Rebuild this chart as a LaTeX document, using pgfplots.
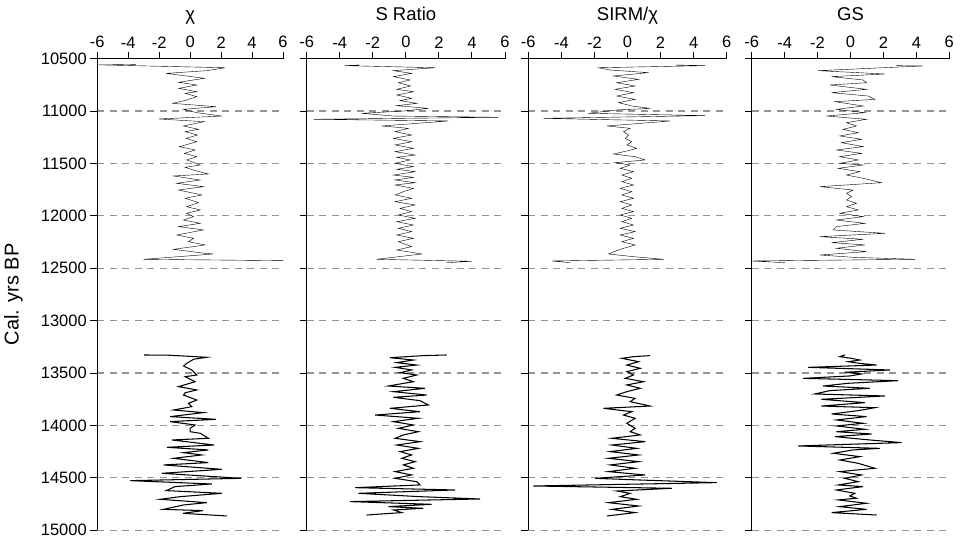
\documentclass[border=0pt]{standalone}
\usepackage{fontspec}
\setmainfont{Liberation Sans}
\usepackage{pgfplots}
\pgfplotsset{compat=1.18}
\pgfplotsset{
  panel/.style={
    scale only axis, height=471.6pt,
    xmin=-6, xmax=6, ymin=10500, ymax=15000, y dir=reverse,
    axis x line*=top, axis y line*=left,
    xtick={-6,-4,...,6}, ytick={10500,11000,...,15000},
    tick align=outside, major tick length=7pt,
    ymajorgrids,
    grid style={dash pattern=on 7pt off 5.5pt, color=black!42, line width=1.3pt},
    axis line style={line width=1.3pt, black},
    tick style={line width=1pt, black},
    scaled y ticks=false, scaled x ticks=false,
    /pgf/number format/assume math mode=true,
    /pgf/number format/set thousands separator={},
    ticklabel style={font=\fontsize{16.5}{18}\selectfont},
    title style={at={(0.5,1)}, anchor=base, yshift=32pt, font=\fontsize{18.5}{20}\selectfont},
    cycle list={{black, line width=1.05pt, mark=none, smooth, tension=0.35}},
  }
}
\begin{document}
\begin{tikzpicture}
\useasboundingbox (0,0) rectangle (960pt,539pt);
% ---------------- chi ----------------
\begin{axis}[panel, width=185.7pt, at={(97.3pt,8.8pt)}, anchor=south west,
  title={χ}, ylabel={Cal. yrs BP},
  ylabel style={at={(axis description cs:0,0.5)}, anchor=center, rotate=0, yshift=83.8pt, font=\fontsize{20}{22}\selectfont}]
\addplot coordinates {
(-3.5,10555) (-5.9,10560) (2.26,10587) (1.08,10615) (-1.55,10641) (0.92,10688) (-0.75,10726) (0.43,10752)
(-0.73,10784) (0.43,10816) (-0.32,10831) (0.43,10863) (-0.22,10895) (-1.12,10927) (1.68,10959) (-0.43,10984)
(0.43,11016) (2.04,11048) (-2.04,11076) (0.9,11102) (-0.43,11143) (0.54,11175) (-0.32,11197) (0.47,11229)
(-0.26,11261) (0.43,11293) (-0.69,11340) (0.32,11372) (-0.37,11404) (0.43,11436) (-0.22,11467) (0.65,11515)
(-0.32,11537) (0.32,11569) (1.18,11601) (-1.08,11620) (0.65,11658) (-0.86,11690) (0.86,11722) (-0.75,11754)
(0.75,11801) (-0.32,11833) (0.54,11874) (-0.22,11913) (0.65,11944) (-0.22,11976) (0.22,12008) (-0.43,12040)
(0.65,12072) (-0.75,12103) (0.86,12135) (-0.86,12183) (0.22,12215) (-0.11,12247) (0.97,12278) (-1.08,12320)
(0.97,12358) (1.5,12364) (-0.75,12390) (-3.01,12415) (6.0,12428)
};
\addplot coordinates {
(-2.97,13328) (-1.4,13330) (1.08,13350) (0.22,13369) (-0.22,13408) (-0.43,13433) (0.11,13471) (0.43,13519)
(-0.32,13535) (0.32,13583) (-0.75,13630) (0.43,13662) (-0.32,13688) (-0.43,13710) (0.43,13758) (-0.11,13789)
(0.11,13821) (-1.08,13853) (0.86,13878) (-1.29,13916) (1.68,13942) (-1.29,13964) (0.32,13996) (0,14028)
(0,14060) (0.65,14075) (1.18,14123) (-1.18,14139) (1.55,14187) (-1.51,14209) (1.18,14234) (-0.43,14260)
(0.75,14282) (-1.08,14314) (1.18,14355) (-1.72,14377) (2.04,14419) (-1.83,14457) (3.3,14505) (-3.87,14527)
(1.4,14559) (-0.97,14584) (-1.55,14622) (2.04,14648) (-0.65,14680) (-1.94,14705) (1.08,14737) (-0.43,14759)
(-1.72,14801) (0.82,14813) (-0.47,14839) (2.37,14864)
};
\end{axis}
% ---------------- S Ratio ----------------
\begin{axis}[panel, width=198.3pt, at={(306.7pt,8.8pt)}, anchor=south west,
  title={S Ratio}, yticklabels={}]
\addplot coordinates {
(-2.77,10561) (-3.68,10567) (1.77,10587) (-0.75,10615) (0.35,10641) (-0.75,10672) (0.25,10704) (-0.45,10730)
(0.29,10761) (-0.55,10793) (0.46,10816) (-0.55,10847) (0.35,10879) (-0.35,10901) (0.66,10927) (-0.55,10949)
(1.36,10975) (-0.15,11000) (-2.67,11022) (-0.75,11048) (5.6,11060) (-5.59,11079) (2.57,11095) (-1.46,11143)
(0.15,11165) (-0.65,11197) (0.35,11229) (-0.75,11261) (0.35,11293) (-0.65,11324) (0.46,11356) (-0.65,11388)
(0.56,11420) (-0.55,11442) (0.25,11467) (-0.65,11499) (0.46,11531) (-0.55,11556) (0.56,11579) (-0.75,11611)
(0.46,11633) (-0.65,11658) (0.56,11684) (-0.65,11706) (0.46,11738) (-0.15,11770) (-0.65,11801) (0.35,11833)
(-0.65,11865) (0.56,11897) (-0.35,11929) (0.35,11960) (-0.45,11992) (0.56,12024) (-0.55,12056) (0.46,12088)
(-0.45,12119) (0.35,12151) (-0.55,12183) (0.46,12215) (-0.45,12247) (0.35,12294) (-0.55,12326) (0.96,12364)
(-1.76,12415) (3.98,12434) (2.47,12447)
};
\addplot coordinates {
(2.47,13328) (1.06,13334) (-0.96,13354) (0.46,13376) (-0.55,13401) (0.66,13424) (-0.65,13446) (0.35,13471)
(-0.35,13497) (0.66,13519) (-0.15,13551) (0.46,13583) (-1.06,13624) (1.16,13646) (-0.75,13678) (1.26,13710)
(-0.75,13732) (0.86,13764) (1.36,13805) (-0.96,13837) (0.86,13869) (-1.86,13901) (0.76,13932) (-0.75,13964)
(0.46,13996) (-0.45,14028) (0.76,14060) (-0.15,14091) (-0.65,14123) (0.86,14155) (-0.55,14187) (0.76,14219)
(-0.35,14250) (0.35,14282) (-0.25,14314) (0.56,14346) (-0.15,14377) (0.46,14409) (-0.65,14441) (0.35,14473)
(-0.65,14505) (0.66,14537) (0.86,14568) (-3.07,14594) (2.98,14616) (-2.87,14648) (0.86,14680) (4.49,14702)
(-3.38,14727) (1.56,14753) (-1.06,14775) (1.06,14791) (-0.75,14807) (-0.25,14832) (-2.37,14855)
};
\end{axis}
% ---------------- SIRM/chi ----------------
\begin{axis}[panel, width=198.4pt, at={(528.3pt,8.8pt)}, anchor=south west,
  title={SIRM/χ}, yticklabels={}]
\addplot coordinates {
(2.88,10561) (4.7,10567) (-1.75,10587) (-1.05,10609) (1.27,10634) (-0.85,10666) (0.67,10698) (-0.65,10730)
(0.46,10761) (-0.75,10793) (0.36,10825) (-0.65,10857) (0.46,10889) (-0.54,10920) (0.26,10952) (1.37,10975)
(-0.65,10990) (-2.36,11022) (4.7,11044) (-5.08,11070) (2.58,11095) (-1.25,11143) (0.16,11165) (-0.24,11197)
(0.06,11229) (-0.14,11261) (0.26,11293) (-0.04,11324) (0.56,11356) (0.06,11378) (-0.85,11410) (0.46,11436)
(1.07,11467) (-0.75,11493) (0.16,11515) (-0.44,11547) (0.36,11579) (-0.34,11611) (0.26,11642) (-0.34,11674)
(0.36,11706) (-0.44,11738) (0.26,11770) (-0.34,11801) (0.36,11833) (-0.44,11865) (0.26,11897) (-0.34,11929)
(0.36,11960) (-0.44,11992) (0.26,12024) (-0.34,12056) (0.36,12088) (-0.44,12119) (0.46,12151) (-0.44,12183)
(0.36,12215) (-0.34,12247) (0.46,12278) (-0.44,12320) (-1.15,12364) (0.36,12390) (2.18,12415) (-4.58,12431)
(-3.47,12447)
};
\addplot coordinates {
(1.37,13334) (0.36,13344) (-0.34,13360) (0.67,13392) (-0.04,13424) (0.77,13455) (-0.04,13487) (0.36,13519)
(-0.14,13551) (0.97,13583) (-0.04,13614) (0.77,13646) (-0.04,13678) (-0.65,13710) (0.46,13742) (0.16,13773)
(1.37,13815) (-1.45,13837) (0.26,13869) (-0.24,13901) (0.46,13932) (-0.04,13980) (0.46,14028) (0.16,14060)
(0.77,14091) (-0.95,14123) (1.07,14155) (-0.95,14187) (0.56,14219) (-1.05,14250) (0.67,14282) (-1.15,14314)
(0.67,14346) (-1.05,14377) (0.46,14409) (-1.15,14441) (1.07,14473) (-1.96,14505) (0.77,14521) (5.4,14546)
(-5.69,14578) (2.68,14600) (-0.65,14626) (0.16,14648) (-0.44,14680) (0.56,14705) (-1.15,14737) (0.67,14769)
(-0.95,14801) (0.46,14832) (-1.25,14864)
};
\end{axis}
% ---------------- GS ----------------
\begin{axis}[panel, width=197.6pt, at={(751.7pt,8.8pt)}, anchor=south west,
  title={GS}, yticklabels={}]
\addplot coordinates {
(2.79,10567) (4.41,10570) (-1.96,10615) (2.09,10647) (-1.15,10672) (0.77,10704) (0.97,10730) (-1.26,10752)
(0.97,10793) (-1.15,10825) (1.07,10857) (1.48,10889) (-0.95,10911) (0.77,10952) (-0.85,10984) (0.87,11016)
(-1.46,11048) (0.97,11079) (-0.24,11111) (0.36,11143) (-0.45,11175) (0.47,11207) (-0.65,11238) (0.67,11270)
(-0.55,11302) (0.77,11340) (-0.85,11372) (0.67,11404) (-0.65,11436) (0.47,11467) (-0.65,11499) (0.77,11515)
(-0.75,11547) (0.57,11579) (-0.24,11611) (0.77,11642) (1.88,11684) (-1.86,11722) (0.16,11754) (-0.24,11785)
(0.06,11817) (-0.24,11849) (0.36,11881) (-0.24,11913) (0.47,11944) (-0.65,11976) (0.77,12008) (-0.85,12040)
(0.87,12072) (-0.85,12103) (-1.05,12135) (2.09,12167) (-1.86,12199) (0.77,12224) (-1.15,12256) (0.87,12278)
(-0.85,12310) (0.97,12342) (-1.86,12374) (0.16,12396) (3.91,12415) (-6.0,12431) (-3.99,12447)
};
\addplot coordinates {
(-0.34,13328) (-0.65,13344) (0.06,13360) (0.57,13376) (-0.14,13392) (0.57,13408) (1.58,13424) (-2.57,13446)
(2.39,13471) (-0.34,13493) (0.67,13509) (-0.04,13528) (-2.87,13551) (2.89,13573) (-0.14,13598) (-1.66,13624)
(1.17,13646) (-1.26,13668) (-2.17,13700) (2.09,13719) (-1.76,13751) (0.87,13783) (-1.76,13815) (1.48,13831)
(0.47,13859) (-1.15,13891) (0.97,13916) (-0.85,13948) (0.77,13980) (-0.85,14005) (0.87,14037) (-0.85,14060)
(1.28,14082) (-0.95,14107) (1.17,14139) (3.1,14164) (-3.18,14196) (1.78,14219) (0.16,14234) (-1.05,14266)
(0.57,14298) (-0.65,14330) (0.47,14362) (1.48,14409) (-0.65,14441) (0.67,14473) (-0.34,14505) (0.47,14537)
(-0.75,14568) (0.77,14584) (-0.85,14616) (0.26,14648) (-0.04,14673) (0.36,14695) (-0.75,14711) (0.97,14743)
(-0.65,14775) (0.97,14801) (-1.15,14832) (1.58,14855)
};
\end{axis}
\end{tikzpicture}
\end{document}
